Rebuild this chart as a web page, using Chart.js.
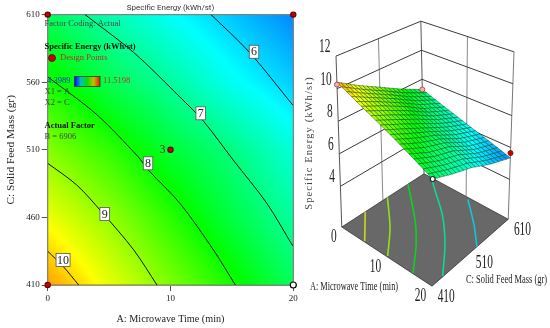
<!DOCTYPE html>
<html>
<head>
<meta charset="utf-8">
<style>
  body { margin: 0; background: #fff; }
  canvas { position: absolute; top: 0; }
  #contour { left: 0; }
  #surface { left: 300px; }
</style>
<script src="https://cdn.jsdelivr.net/npm/chart.js@4"></script>
</head>
<body>
<canvas id="contour" width="300" height="328"></canvas>
<canvas id="surface" width="250" height="328"></canvas>
<script>
const timeTicks = [0, 10, 20];
const feedTicks = [410, 460, 510, 560, 610];
const feedTicks3d = [410, 510, 610];
const energyTicks = [4, 6, 8, 10, 12];

// energy, one row per feed mass, columns are timeTicksFine
const timeTicksFine = [0, 5, 10, 15, 20];
const energyAt410 = [10.4, 9.55, 8.8, 8.05, 7.3];
const energyAt460 = [9.6, 8.95, 8.2, 7.45, 6.85];
const energyAt510 = [8.85, 8.25, 7.55, 7.05, 6.45];
const energyAt560 = [8.05, 7.4, 6.85, 6.3, 5.85];
const energyAt610 = [7.3, 6.75, 6.25, 5.8, 5.35];

// contour lines on the 2D plot
const contour6Time = [13.3, 16.4, 19.95];
const contour6Feed = [610, 582.4, 543.2];
const contour7Time = [3.04, 7, 10.77, 12.7, 15.1, 17.83, 19.95];
const contour7Feed = [610, 582, 549, 531, 502.5, 470.6, 439];
const contour8Time = [0, 4, 7.35, 8.2, 10.77, 13.5, 15.28];
const contour8Feed = [564, 536, 505, 495, 470.4, 435.9, 410];
const contour9Time = [0, 2.36, 4.4, 7, 8.9];
const contour9Feed = [500, 484, 464, 436, 410];
const contour10Time = [0, 1.27, 2.52];
const contour10Feed = [435, 423.6, 410];

const labelLevels = ['6', '7', '8', '9', '10'];
const labelTime = [16.8, 12.46, 8.17, 4.64, 1.25];
const labelFeed = [582.5, 537, 500, 462.5, 428.5];

// design points
const pointTime = [0, 20, 10, 0, 20];
const pointFeed = [610, 610, 510, 410, 410];
const pointEnergy = [7.3, 5.65, 7.6, 10.25, 7.3];
const pointFill = ['#c80000', '#c80000', '#c80000', '#c80000', '#ffffff'];
const pointEdge = ['#600', '#600', '#600', '#600', '#000'];
const pointSize = [2.6, 2.6, 2.6, 2.6, 3];
const pointFill3d = ['#f4b0b0', '#c80000', '#c80000', '#f4b0b0', '#ffffff'];
const pointEdge3d = ['#b05050', '#8a1010', '#8a1010', '#b05050', '#000'];

// contour lines as they show on the floor of the 3D box
const floor6Time = [10.8, 16, 20];
const floor6Feed = [606, 565, 528];
const floor7Time = [2.4, 2.9, 10.1, 15.3, 19.9];
const floor7Feed = [610, 601.6, 549, 498, 439];
const floor8Time = [0, 7.7, 11.6, 15.7];
const floor8Feed = [571, 507, 466, 411];
const floor9Time = [0, 5.7, 10];
const floor9Feed = [521, 466, 412];
const floor10Time = [0, 4.9];
const floor10Feed = [467, 412];
const floorColors = ['#10c8d8', '#10d890', '#10d020', '#90e020', '#c8d820'];

const floorLevel = 1.5;
const topLevel = 12;

function energyAt(a, c) {
  const rows = [energyAt410, energyAt460, energyAt510, energyAt560, energyAt610];
  const fx = Math.min(a / 5, 3.9999), fy = Math.min((c - 410) / 50, 3.9999);
  const i = Math.floor(fx), j = Math.floor(fy);
  const u = fx - i, v = fy - j;
  return (rows[j][i] * (1 - u) + rows[j][i + 1] * u) * (1 - v) +
         (rows[j + 1][i] * (1 - u) + rows[j + 1][i + 1] * u) * v;
}

const colorStops = [
  [4.4, 0, 0, 255], [6.2, 0, 255, 255], [7.9, 0, 255, 0], [9.7, 255, 255, 0], [11.52, 255, 0, 0]
];

function rainbow(v) {
  for (let i = 1; i < colorStops.length; i++) {
    if (v <= colorStops[i][0]) {
      const a = colorStops[i - 1], b = colorStops[i];
      const t = Math.max(0, (v - a[0]) / (b[0] - a[0]));
      return `rgb(${a[1] + (b[1] - a[1]) * t},${a[2] + (b[2] - a[2]) * t},${a[3] + (b[3] - a[3]) * t})`;
    }
  }
  return 'rgb(255,0,0)';
}

function pairs(xs, ys) {
  return xs.map((x, i) => ({ x: x, y: ys[i] }));
}

function contourSet(xs, ys) {
  return { data: pairs(xs, ys), showLine: true, tension: 0.3, borderColor: '#111', borderWidth: 1, pointRadius: 0 };
}

const fieldPlugin = {
  id: 'field',
  beforeDatasetsDraw(chart) {
    const { ctx, scales: { x, y } } = chart;
    const stepA = 20 / 122, stepC = 200 / 135;
    for (let a = 0; a < 20; a += stepA) {
      for (let c = 410; c < 610; c += stepC) {
        const x0 = x.getPixelForValue(a), x1 = x.getPixelForValue(a + stepA);
        const y0 = y.getPixelForValue(c + stepC), y1 = y.getPixelForValue(c);
        ctx.fillStyle = rainbow(energyAt(a + stepA / 2, c + stepC / 2));
        ctx.fillRect(x0, y0, x1 - x0 + 0.6, y1 - y0 + 0.6);
      }
    }
    const area = chart.chartArea;
    ctx.strokeStyle = '#808080';
    ctx.lineWidth = 1.2;
    ctx.strokeRect(area.left, area.top, area.right - area.left, area.bottom - area.top);
  },
  afterDatasetsDraw(chart) {
    const { ctx, scales: { x, y } } = chart;
    ctx.save();
    ctx.textBaseline = 'middle';
    labelLevels.forEach((text, i) => {
      const px = x.getPixelForValue(labelTime[i]), py = y.getPixelForValue(labelFeed[i]);
      const w = text.length > 1 ? 14 : 9.5, h = 13;
      ctx.fillStyle = '#fff';
      ctx.strokeStyle = '#555';
      ctx.lineWidth = 0.8;
      ctx.fillRect(px - w / 2, py - h / 2, w, h);
      ctx.strokeRect(px - w / 2, py - h / 2, w, h);
      ctx.fillStyle = '#222';
      ctx.font = '12px "Liberation Serif"';
      ctx.textAlign = 'center';
      ctx.fillText(text, px, py + 0.5);
    });
    ctx.textAlign = 'right';
    ctx.font = '12px "Liberation Serif"';
    ctx.fillStyle = '#333';
    ctx.fillText('3', x.getPixelForValue(10) - 5, y.getPixelForValue(510));

    // legend notes sitting over the plot
    ctx.textAlign = 'left';
    const note = (text, px, py, font, color) => {
      ctx.font = font;
      ctx.fillStyle = color;
      ctx.fillText(text, px, py);
    };
    const plain = '8.5px "Liberation Serif"', bold = 'bold 8.5px "Liberation Serif"';
    note('Factor Coding: Actual', 44.5, 24, plain, '#444');
    note('Specific Energy (kWh/st)', 44.5, 47, bold, '#111');
    ctx.beginPath();
    ctx.arc(52, 58, 3.5, 0, Math.PI * 2);
    ctx.fillStyle = '#c80000';
    ctx.fill();
    ctx.strokeStyle = '#600';
    ctx.stroke();
    note('Design Points', 60, 58, plain, '#b03030');
    note('4.3989', 47, 81, plain, '#1030d0');
    const bar = ctx.createLinearGradient(74.5, 0, 100, 0);
    ['#0000ff', '#00c0c0', '#00e000', '#c0c000', '#e02000'].forEach((c, i) => bar.addColorStop(i / 4, c));
    ctx.fillStyle = bar;
    ctx.fillRect(74.5, 76.5, 25.5, 10);
    ctx.strokeStyle = '#333';
    ctx.strokeRect(74.5, 76.5, 25.5, 10);
    note('11.5198', 103, 81, plain, '#c03020');
    note('X1 = A', 44.5, 92, plain, '#444');
    note('X2 = C', 44.5, 103, plain, '#444');
    note('Actual Factor', 44.5, 126, bold, '#111');
    note('B = 6906', 44.5, 137, plain, '#444');
    ctx.restore();
  }
};

new Chart(document.getElementById('contour'), {
  type: 'scatter',
  data: {
    datasets: [
      {
        data: pairs(pointTime, pointFeed), clip: false, pointRadius: pointSize,
        pointBackgroundColor: pointFill, pointBorderColor: pointEdge, pointBorderWidth: 1.2
      },
      contourSet(contour6Time, contour6Feed),
      contourSet(contour7Time, contour7Feed),
      contourSet(contour8Time, contour8Feed),
      contourSet(contour9Time, contour9Feed),
      contourSet(contour10Time, contour10Feed)
    ]
  },
  options: {
    responsive: false,
    animation: false,
    events: [],
    layout: { padding: { left: 0, right: 6.7, top: 0, bottom: 0 } },
    plugins: {
      legend: { display: false },
      tooltip: { enabled: false },
      title: {
        display: true,
        text: 'Specific Energy (kWh/st)',
        fullSize: false,
        color: '#333',
        font: { family: 'Roboto', size: 8, weight: 'normal' },
        padding: { top: 3, bottom: 2 }
      }
    },
    scales: {
      x: {
        type: 'linear', min: 0, max: 20,
        afterBuildTicks: s => { s.ticks = timeTicks.map(v => ({ value: v })); },
        afterFit: s => { s.height = 43; },
        grid: { drawOnChartArea: false, tickLength: 6, tickColor: '#555' },
        border: { color: '#808080' },
        ticks: { color: '#222', font: { family: '"Liberation Serif"', size: 9 }, padding: 2, maxRotation: 0 },
        title: {
          display: true, text: 'A: Microwave Time (min)', color: '#222',
          font: { family: '"Liberation Serif"', size: 10.2 }, padding: { top: 6, bottom: 3 }
        }
      },
      y: {
        type: 'linear', min: 410, max: 610,
        afterBuildTicks: s => { s.ticks = feedTicks.map(v => ({ value: v })); },
        afterFit: s => { s.width = 47.7; },
        grid: { drawOnChartArea: false, tickLength: 6, tickColor: '#555' },
        border: { color: '#808080' },
        ticks: { color: '#222', font: { family: '"Liberation Serif"', size: 9 }, padding: 2 },
        title: {
          display: true, text: 'C: Solid Feed Mass (gr)', color: '#222',
          font: { family: '"Liberation Serif"', size: 11.4 }, padding: { top: 4, bottom: 6 }
        }
      }
    }
  },
  plugins: [fieldPlugin]
});

// 3D view: box corners on the panel, floor then top, in the order
// (time 0, feed 410), (time 20, feed 410), (time 20, feed 610), (time 0, feed 610)
const floorCorners = [[38.3, 229], [132.3, 290], [211.7, 221], [124, 174]];
const topCorners = [[32.3, 52.7], [133.5, 90], [217.7, 48.3], [120.7, 16.7]];

function onPlane(c, u, v, k) {
  return (c[0][k] * (1 - u) + c[1][k] * u) * (1 - v) + (c[3][k] * (1 - u) + c[2][k] * u) * v;
}

function project(a, c, e) {
  const u = a / 20, v = (c - 410) / 200, h = (e - floorLevel) / (topLevel - floorLevel);
  return {
    x: onPlane(floorCorners, u, v, 0) * (1 - h) + onPlane(topCorners, u, v, 0) * h,
    y: onPlane(floorCorners, u, v, 1) * (1 - h) + onPlane(topCorners, u, v, 1) * h
  };
}

function lineSet(points, color, width) {
  return { data: points, showLine: true, borderColor: color, borderWidth: width, pointRadius: 0, clip: false };
}

function floorSet(times, feeds, color) {
  const set = lineSet(times.map((t, i) => project(t, feeds[i], floorLevel)), color, 1.6);
  set.tension = 0.3;
  return set;
}

const wallSets = [];
energyTicks.forEach(e => {
  wallSets.push(lineSet([project(0, 410, e), project(0, 610, e), project(20, 610, e)], '#3a3a3a', 1));
});
wallSets.push(lineSet([project(0, 410, floorLevel), project(0, 410, topLevel)], '#555', 1));
wallSets.push(lineSet([project(0, 610, floorLevel), project(0, 610, topLevel)], '#555', 1));
wallSets.push(lineSet([project(20, 610, floorLevel), project(20, 610, topLevel)], '#777', 1));
wallSets.push(lineSet([project(0, 510, floorLevel), project(0, 510, topLevel)], '#888', 1));
wallSets.push(lineSet([project(10, 610, floorLevel), project(10, 610, topLevel)], '#888', 1));

const floorShape = {
  data: [project(0, 410, floorLevel), project(20, 410, floorLevel), project(20, 610, floorLevel),
         project(0, 610, floorLevel), project(0, 410, floorLevel)],
  showLine: true, fill: 'shape', backgroundColor: '#686868', borderColor: '#333', borderWidth: 0.8,
  pointRadius: 0, clip: false
};

const squashed = (ctx, text, px, py, size, sx, align) => {
  ctx.save();
  ctx.translate(px, py);
  ctx.scale(sx, 1);
  ctx.font = size + 'px "Liberation Serif"';
  ctx.textAlign = align;
  ctx.textBaseline = 'middle';
  ctx.fillStyle = '#222';
  ctx.fillText(text, 0, 0);
  ctx.restore();
};

const surfacePlugin = {
  id: 'surfaceMesh',
  beforeDatasetDraw(chart, args) {
    if (args.index !== 0) return;
    const { ctx, scales: { x, y } } = chart;
    const cells = 20;
    const corner = (a, c) => {
      const p = project(a, c, energyAt(a, c));
      return [x.getPixelForValue(p.x), y.getPixelForValue(p.y)];
    };
    ctx.save();
    ctx.lineWidth = 0.7;
    ctx.strokeStyle = 'rgba(0,50,30,0.6)';
    for (let i = 0; i < cells; i++) {
      for (let j = 0; j < cells; j++) {
        const a0 = i, a1 = i + 1, c0 = 410 + j * 10, c1 = c0 + 10;
        const quad = [corner(a0, c0), corner(a1, c0), corner(a1, c1), corner(a0, c1)];
        ctx.beginPath();
        quad.forEach((q, k) => (k ? ctx.lineTo(q[0], q[1]) : ctx.moveTo(q[0], q[1])));
        ctx.closePath();
        ctx.fillStyle = rainbow(energyAt(a0 + 0.5, c0 + 5));
        ctx.fill();
        ctx.stroke();
      }
    }
    ctx.restore();
  },
  afterDraw(chart) {
    const { ctx, scales: { x, y } } = chart;
    const at = (p, dx, dy) => [x.getPixelForValue(p.x) + dx, y.getPixelForValue(p.y) + dy];
    energyTicks.forEach(e => {
      const q = at(project(0, 410, e), -5.5, -9);
      squashed(ctx, String(e), q[0], q[1], 19, 0.6, 'right');
    });
    timeTicks.forEach(t => {
      const q = at(project(t, 410, floorLevel), t === 0 ? -8 : -11.5, 10);
      squashed(ctx, String(t), q[0], q[1], 19, 0.6, 'center');
    });
    feedTicks3d.forEach(c => {
      const q = at(project(20, c, floorLevel), 14.2, 10.5);
      squashed(ctx, String(c), q[0], q[1], 19, 0.6, 'center');
    });
    squashed(ctx, 'A: Microwave Time (min)', 54, 287, 13, 0.64, 'center');
    squashed(ctx, 'C: Solid Feed Mass (gr)', 206.5, 280, 13, 0.65, 'center');
    ctx.save();
    ctx.translate(9, 143);
    ctx.rotate(-Math.PI / 2);
    ctx.font = '10.5px "Liberation Serif"';
    ctx.letterSpacing = '1.1px';
    ctx.textAlign = 'center';
    ctx.textBaseline = 'middle';
    ctx.fillStyle = '#444';
    ctx.fillText('Specific Energy (kWh/st)', 0, 0);
    ctx.restore();
  }
};

new Chart(document.getElementById('surface'), {
  type: 'scatter',
  data: {
    datasets: [
      {
        data: pointTime.map((t, i) => project(t, pointFeed[i], pointEnergy[i]))
          .filter((p, i) => i !== 2),
        clip: false, pointRadius: 2.5,
        pointBackgroundColor: pointFill3d.filter((p, i) => i !== 2),
        pointBorderColor: pointEdge3d.filter((p, i) => i !== 2), pointBorderWidth: 1
      },
      floorSet(floor6Time, floor6Feed, floorColors[0]),
      floorSet(floor7Time, floor7Feed, floorColors[1]),
      floorSet(floor8Time, floor8Feed, floorColors[2]),
      floorSet(floor9Time, floor9Feed, floorColors[3]),
      floorSet(floor10Time, floor10Feed, floorColors[4]),
      floorShape
    ].concat(wallSets)
  },
  options: {
    responsive: false,
    animation: false,
    events: [],
    layout: { padding: 0 },
    plugins: { legend: { display: false }, tooltip: { enabled: false } },
    scales: {
      x: { type: 'linear', min: 0, max: 250, display: false },
      y: { type: 'linear', min: 0, max: 328, reverse: true, display: false }
    }
  },
  plugins: [surfacePlugin]
});
</script>
</body>
</html>
